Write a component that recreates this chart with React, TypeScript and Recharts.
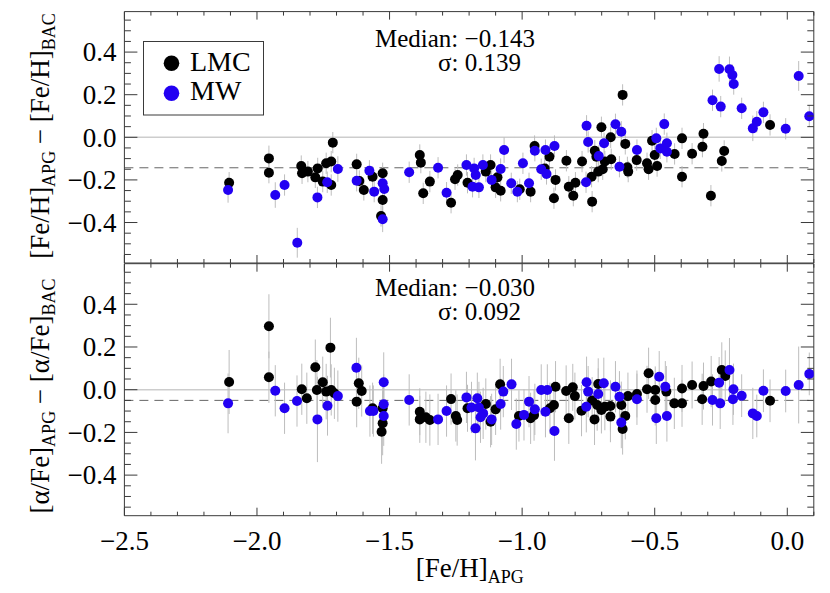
import React from 'react';
import { ScatterChart, Scatter, XAxis, YAxis, ErrorBar, ReferenceLine } from 'recharts';

const W = 830;
const H = 593;
const FONT = '"Liberation Serif", "Times New Roman", Times, serif';
const FRAME = '#3a3a3a';
const BLUE = '#2200f2';

// x ticks every 0.1 (majors every 0.5 are labelled)
const X_TICKS = [-2.5, -2.4, -2.3, -2.2, -2.1, -2.0, -1.9, -1.8, -1.7, -1.6, -1.5, -1.4, -1.3, -1.2, -1.1, -1.0,
  -0.9, -0.8, -0.7, -0.6, -0.5, -0.4, -0.3, -0.2, -0.1, 0.0, 0.1];
// y ticks every 0.05 (majors every 0.2 are labelled)
const Y_TICKS = [-0.55, -0.5, -0.45, -0.4, -0.35, -0.3, -0.25, -0.2, -0.15, -0.1, -0.05, 0, 0.05, 0.1, 0.15,
  0.2, 0.25, 0.3, 0.35, 0.4, 0.45, 0.5, 0.55];
const X_DOMAIN = [-2.5, 0.1];
const Y_DOMAIN = [-0.59, 0.59];

// [Fe/H]_APG, Δ[Fe/H], error
const lmcFe = [
  [-2.105, -0.213, 0.05], [-1.955, -0.099, 0.06], [-1.955, -0.166, 0.05], [-1.833, -0.135, 0.05],
  [-1.830, -0.169, 0.05], [-1.808, -0.161, 0.05], [-1.780, -0.188, 0.05], [-1.771, -0.146, 0.05],
  [-1.752, -0.208, 0.05], [-1.739, -0.122, 0.05], [-1.720, -0.114, 0.05], [-1.720, -0.224, 0.05],
  [-1.714, -0.025, 0.05], [-1.624, -0.127, 0.05], [-1.614, -0.205, 0.05], [-1.597, -0.247, 0.05],
  [-1.564, -0.185, 0.05], [-1.526, -0.169, 0.05], [-1.526, -0.294, 0.05], [-1.532, -0.369, 0.05],
  [-1.386, -0.083, 0.05], [-1.382, -0.119, 0.05], [-1.348, -0.208, 0.05], [-1.373, -0.263, 0.05],
  [-1.268, -0.307, 0.05], [-1.253, -0.197, 0.05], [-1.243, -0.177, 0.05], [-1.206, -0.213, 0.05],
  [-1.137, -0.161, 0.05], [-1.119, -0.130, 0.05], [-1.093, -0.188, 0.05], [-1.100, -0.235, 0.05],
  [-1.081, -0.251, 0.05], [-1.009, -0.244, 0.05], [-0.968, -0.255, 0.05], [-0.953, -0.041, 0.05],
  [-0.897, -0.091, 0.05], [-0.915, -0.146, 0.05], [-0.874, -0.200, 0.05], [-0.880, -0.286, 0.05],
  [-0.833, -0.110, 0.05], [-0.824, -0.232, 0.05], [-0.799, -0.213, 0.05], [-0.807, -0.274, 0.05],
  [-0.774, -0.114, 0.05], [-0.736, -0.302, 0.05], [-0.701, 0.047, 0.05], [-0.726, -0.063, 0.05],
  [-0.720, -0.091, 0.05], [-0.738, -0.185, 0.05], [-0.713, -0.161, 0.05], [-0.696, -0.150, 0.05],
  [-0.688, -0.114, 0.05], [-0.666, 0.000, 0.05], [-0.664, -0.103, 0.05], [-0.621, 0.199, 0.05],
  [-0.611, -0.031, 0.05], [-0.603, -0.141, 0.05], [-0.600, -0.161, 0.05], [-0.568, -0.107, 0.05],
  [-0.529, -0.122, 0.05], [-0.523, -0.150, 0.05], [-0.491, -0.135, 0.05], [-0.500, -0.083, 0.05],
  [-0.510, -0.016, 0.05], [-0.425, -0.078, 0.05], [-0.397, -0.005, 0.05], [-0.397, -0.185, 0.05],
  [-0.359, -0.077, 0.05], [-0.320, -0.044, 0.05], [-0.316, 0.017, 0.05], [-0.288, -0.274, 0.05],
  [-0.247, -0.111, 0.05], [-0.238, -0.064, 0.05], [-0.065, 0.058, 0.05],
];
const mwFe = [
  [-2.109, -0.247, 0.06], [-1.931, -0.271, 0.06], [-1.896, -0.224, 0.05], [-1.848, -0.495, 0.07],
  [-1.772, -0.282, 0.05], [-1.735, -0.211, 0.05], [-1.695, -0.149, 0.06], [-1.624, -0.204, 0.05],
  [-1.576, -0.157, 0.05], [-1.558, -0.255, 0.05], [-1.526, -0.216, 0.05], [-1.520, -0.243, 0.05],
  [-1.526, -0.385, 0.06], [-1.426, -0.164, 0.05], [-1.317, -0.143, 0.05], [-1.285, -0.260, 0.05],
  [-1.210, -0.130, 0.05], [-1.181, -0.146, 0.05], [-1.175, -0.177, 0.05], [-1.187, -0.232, 0.05],
  [-1.163, -0.235, 0.05], [-1.148, -0.130, 0.05], [-1.115, -0.200, 0.05], [-1.081, -0.149, 0.05],
  [-1.068, -0.060, 0.06], [-1.041, -0.216, 0.05], [-1.018, -0.255, 0.05], [-0.997, -0.122, 0.05],
  [-0.974, -0.216, 0.05], [-0.952, -0.063, 0.05], [-0.912, -0.060, 0.05], [-0.878, -0.041, 0.05],
  [-0.928, -0.150, 0.05], [-0.908, -0.172, 0.05], [-0.757, 0.054, 0.05], [-0.751, -0.022, 0.05],
  [-0.759, -0.211, 0.05], [-0.711, -0.088, 0.05], [-0.691, -0.028, 0.05], [-0.648, 0.061, 0.05],
  [-0.626, 0.026, 0.05], [-0.633, -0.138, 0.05], [-0.567, -0.060, 0.05], [-0.494, -0.005, 0.05],
  [-0.464, 0.062, 0.05], [-0.479, -0.052, 0.05], [-0.454, -0.028, 0.05], [-0.454, -0.068, 0.05],
  [-0.282, 0.174, 0.05], [-0.251, 0.144, 0.05], [-0.257, 0.321, 0.06], [-0.218, 0.319, 0.06],
  [-0.207, 0.292, 0.05], [-0.202, 0.250, 0.05], [-0.172, 0.136, 0.05], [-0.130, 0.042, 0.06],
  [-0.115, 0.073, 0.05], [-0.090, 0.117, 0.05], [-0.006, 0.040, 0.05], [0.043, 0.288, 0.07],
  [0.083, 0.099, 0.05],
];
// [Fe/H]_APG, Δ[α/Fe], error
const lmcAlpha = [
  [-2.105, 0.036, 0.15], [-1.955, 0.297, 0.15], [-1.955, 0.058, 0.12], [-1.831, 0.002, 0.12],
  [-1.812, -0.040, 0.12], [-1.780, 0.105, 0.13], [-1.774, -0.001, 0.14], [-1.752, 0.035, 0.12],
  [-1.739, -0.009, 0.13], [-1.723, 0.197, 0.14], [-1.720, -0.001, 0.12], [-1.708, -0.017, 0.12],
  [-1.616, 0.030, 0.12], [-1.605, -0.006, 0.12], [-1.624, -0.056, 0.12], [-1.564, -0.087, 0.12],
  [-1.526, -0.087, 0.12], [-1.526, -0.157, 0.15], [-1.530, -0.197, 0.15], [-1.386, -0.103, 0.11],
  [-1.386, -0.139, 0.11], [-1.363, -0.129, 0.12], [-1.348, -0.142, 0.12], [-1.268, -0.044, 0.12],
  [-1.250, -0.123, 0.12], [-1.245, -0.142, 0.12], [-1.206, -0.087, 0.11], [-1.137, -0.067, 0.12],
  [-1.119, -0.150, 0.12], [-1.100, -0.092, 0.12], [-1.083, 0.025, 0.12], [-1.012, -0.123, 0.12],
  [-0.968, -0.134, 0.12], [-0.955, -0.119, 0.12], [-0.895, -0.087, 0.12], [-0.880, -0.072, 0.11],
  [-0.874, 0.014, 0.12], [-0.834, -0.006, 0.12], [-0.824, -0.134, 0.12], [-0.809, 0.011, 0.11],
  [-0.801, -0.030, 0.11], [-0.776, -0.098, 0.12], [-0.736, -0.051, 0.11], [-0.727, -0.139, 0.12],
  [-0.713, 0.027, 0.12], [-0.717, -0.072, 0.12], [-0.701, -0.095, 0.11], [-0.688, -0.080, 0.11],
  [-0.667, -0.126, 0.12], [-0.667, -0.076, 0.12], [-0.626, -0.072, 0.11], [-0.621, -0.184, 0.12],
  [-0.611, -0.123, 0.11], [-0.601, -0.030, 0.11], [-0.567, -0.020, 0.11], [-0.529, 0.002, 0.11],
  [-0.523, 0.077, 0.12], [-0.498, -0.048, 0.12], [-0.498, -0.001, 0.11], [-0.456, -0.009, 0.12],
  [-0.426, -0.064, 0.12], [-0.397, -0.064, 0.11], [-0.397, 0.006, 0.11], [-0.359, 0.022, 0.11],
  [-0.321, -0.045, 0.12], [-0.316, 0.017, 0.11], [-0.287, 0.038, 0.12], [-0.247, 0.092, 0.13],
  [-0.234, 0.064, 0.12], [-0.065, -0.052, 0.10],
];
const mwAlpha = [
  [-2.109, -0.064, 0.14], [-1.931, -0.005, 0.12], [-1.896, -0.087, 0.12], [-1.849, -0.053, 0.12],
  [-1.772, -0.139, 0.20], [-1.734, -0.075, 0.14], [-1.695, -0.030, 0.12], [-1.625, 0.103, 0.14],
  [-1.574, -0.100, 0.12], [-1.561, -0.100, 0.12], [-1.522, 0.035, 0.14], [-1.522, -0.068, 0.14],
  [-1.522, -0.123, 0.14], [-1.426, -0.048, 0.12], [-1.317, -0.139, 0.12], [-1.285, -0.100, 0.12],
  [-1.210, -0.036, 0.12], [-1.191, -0.083, 0.12], [-1.169, -0.040, 0.12], [-1.163, -0.083, 0.12],
  [-1.157, -0.129, 0.12], [-1.176, -0.181, 0.15], [-1.147, -0.111, 0.12], [-1.115, -0.139, 0.12],
  [-1.071, -0.009, 0.12], [-1.040, 0.025, 0.12], [-1.081, -0.067, 0.12], [-1.022, -0.161, 0.12],
  [-0.993, -0.118, 0.12], [-0.974, -0.056, 0.12], [-0.952, -0.092, 0.12], [-0.928, -0.001, 0.12],
  [-0.905, -0.001, 0.12], [-0.912, -0.103, 0.12], [-0.878, -0.193, 0.14], [-0.757, 0.035, 0.12],
  [-0.751, -0.009, 0.12], [-0.758, -0.080, 0.12], [-0.713, -0.020, 0.12], [-0.692, 0.030, 0.12],
  [-0.648, 0.014, 0.12], [-0.633, -0.033, 0.12], [-0.626, -0.154, 0.12], [-0.567, -0.045, 0.12],
  [-0.483, 0.061, 0.12], [-0.494, -0.134, 0.12], [-0.460, 0.014, 0.12], [-0.454, -0.123, 0.12],
  [-0.282, -0.048, 0.12], [-0.253, -0.064, 0.12], [-0.257, 0.033, 0.12], [-0.218, 0.092, 0.15],
  [-0.203, 0.002, 0.12], [-0.205, -0.045, 0.12], [-0.172, -0.028, 0.10], [-0.130, -0.111, 0.12],
  [-0.115, -0.123, 0.10], [-0.090, -0.005, 0.10], [-0.006, -0.006, 0.10], [0.043, 0.022, 0.18],
  [0.083, 0.074, 0.10],
];

const FE_MEDIAN_LINE = -0.143;
const ALPHA_MEDIAN_LINE = -0.05;

const toRows = (arr: number[][]) => arr.map(([x, y, e]) => ({ x, y, e }));

const fmt = (v: number, d: number) => (v < -1e-9 ? '\u2212' : '') + Math.abs(v).toFixed(d);
const isMajor = (v: number, step: number) => Math.abs(v / step - Math.round(v / step)) < 1e-6;

const PLOT_LEFT = 124.4;
const PLOT_RIGHT = 813.8;
const AX = 1; // thickness of the axis boxes (must be > 0 to be drawn)

function XTick(props: any) {
  const { x, y, payload, side, showLabel } = props;
  const v = payload.value;
  const maj = isMajor(v, 0.5);
  const len = maj ? 8 : 4;
  const dir = side === 'bottom' ? -1 : 1;
  return (
    <g>
      <line x1={x} x2={x} y1={y} y2={y + dir * len} stroke={FRAME} strokeWidth={1} />
      {showLabel && maj ? (
        <text x={x} y={y + 34} textAnchor="middle" fontSize={27} fontFamily={FONT} fill="#000">
          {fmt(v, 1)}
        </text>
      ) : null}
    </g>
  );
}

function YTick(props: any) {
  const { x, y, payload, side } = props;
  const v = payload.value;
  const maj = isMajor(v, 0.2);
  const len = maj ? 13 : 6.5;
  const dir = side === 'left' ? 1 : -1;
  return (
    <g>
      <line x1={x} x2={x + dir * len} y1={y} y2={y} stroke={FRAME} strokeWidth={1} />
      {side === 'left' && maj ? (
        <text x={x - 8} y={y + 9.3} textAnchor="end" fontSize={27} fontFamily={FONT} fill="#000">
          {fmt(v, 1)}
        </text>
      ) : null}
    </g>
  );
}

const dot = (fill: string) => (p: any) => <circle cx={p.cx} cy={p.cy} r={5} fill={fill} stroke="none" />;
const none = () => <g />;

function Panel(props: { top: number; bottom: number; lmc: number[][]; mw: number[][]; median: number; showXLabels: boolean }) {
  const { top, bottom, lmc, mw, median, showXLabels } = props;
  const lmcRows = toRows(lmc);
  const mwRows = toRows(mw);
  const eb = <ErrorBar dataKey="e" direction="y" width={0} stroke="#bdbdbd" strokeWidth={1} />;
  return (
    <div style={{ position: 'absolute', left: 0, top: 0 }}>
      <ScatterChart
        width={W}
        height={H}
        margin={{ top: top - AX, bottom: H - bottom - AX, left: PLOT_LEFT - AX, right: W - PLOT_RIGHT - AX }}
      >
        <XAxis xAxisId="b" type="number" dataKey="x" domain={X_DOMAIN} allowDataOverflow ticks={X_TICKS}
          interval={0} height={AX} tickSize={0} tickMargin={0} tickLine={false}
          axisLine={{ stroke: FRAME, strokeWidth: 1 }}
          tick={(p: any) => <XTick {...p} side="bottom" showLabel={showXLabels} />} />
        <XAxis xAxisId="t" orientation="top" type="number" dataKey="x" domain={X_DOMAIN} allowDataOverflow ticks={X_TICKS}
          interval={0} height={AX} tickSize={0} tickMargin={0} tickLine={false}
          axisLine={{ stroke: FRAME, strokeWidth: 1 }}
          tick={(p: any) => <XTick {...p} side="top" showLabel={false} />} />
        <YAxis yAxisId="l" type="number" dataKey="y" domain={Y_DOMAIN} allowDataOverflow ticks={Y_TICKS}
          interval={0} width={AX} tickSize={0} tickMargin={0} tickLine={false}
          axisLine={{ stroke: FRAME, strokeWidth: 1 }}
          tick={(p: any) => <YTick {...p} side="left" />} />
        <YAxis yAxisId="r" orientation="right" type="number" dataKey="y" domain={Y_DOMAIN} allowDataOverflow ticks={Y_TICKS}
          interval={0} width={AX} tickSize={0} tickMargin={0} tickLine={false}
          axisLine={{ stroke: FRAME, strokeWidth: 1 }}
          tick={(p: any) => <YTick {...p} side="right" />} />
        <ReferenceLine xAxisId="b" yAxisId="l" y={0} stroke="#cdcdcd" strokeWidth={1.5} />
        <ReferenceLine xAxisId="b" yAxisId="l" y={median} stroke="#666" strokeWidth={1} strokeDasharray="9 6" />
        <Scatter xAxisId="b" yAxisId="l" data={lmcRows} shape={none} isAnimationActive={false}>{eb}</Scatter>
        <Scatter xAxisId="b" yAxisId="l" data={mwRows} shape={none} isAnimationActive={false}>{eb}</Scatter>
        <Scatter name="LMC" xAxisId="b" yAxisId="l" data={lmcRows} shape={dot('#000')} isAnimationActive={false} />
        <Scatter name="MW" xAxisId="b" yAxisId="l" data={mwRows} shape={dot(BLUE)} isAnimationActive={false} />
      </ScatterChart>
    </div>
  );
}

export default function App() {
  const sub = 18;
  return (
    <div style={{ position: 'absolute', left: 0, top: 0, width: W, height: H, background: '#fff' }}>
      <Panel top={11.6} bottom={263} lmc={lmcFe} mw={mwFe} median={FE_MEDIAN_LINE} showXLabels={false} />
      <Panel top={263.7} bottom={515.7} lmc={lmcAlpha} mw={mwAlpha} median={ALPHA_MEDIAN_LINE} showXLabels />
      <svg width={W} height={H} style={{ position: 'absolute', left: 0, top: 0, pointerEvents: 'none' }}
        fontFamily={FONT} fill="#000">
        {/* legend */}
        <rect x={143.5} y={41.5} width={120} height={73.5} fill="#fff" stroke={FRAME} strokeWidth={1} />
        <circle cx={171.5} cy={63.3} r={7.8} fill="#000" />
        <text x={190} y={71} fontSize={28}>LMC</text>
        <circle cx={171.5} cy={93.3} r={7.8} fill={BLUE} />
        <text x={190} y={100} fontSize={28}>MW</text>
        {/* annotations */}
        <text x={375} y={46.5} fontSize={25}>Median: {'\u2212'}0.143</text>
        <text x={438} y={71} fontSize={25}>σ: 0.139</text>
        <text x={375} y={295.5} fontSize={25}>Median: {'\u2212'}0.030</text>
        <text x={438} y={320} fontSize={25}>σ: 0.092</text>
        {/* axis titles */}
        <text x={469.7} y={577} fontSize={27} textAnchor="middle">
          [Fe/H]<tspan fontSize={sub} dy={6}>APG</tspan>
        </text>
        <text x={49} y={136} fontSize={27} textAnchor="middle" transform="rotate(-90 49 136)">
          [Fe/H]<tspan fontSize={sub} dy={6}>APG</tspan><tspan dy={-6}> {'\u2212'} [Fe/H]</tspan><tspan fontSize={sub} dy={6}>BAC</tspan>
        </text>
        <text x={49} y={396} fontSize={27} textAnchor="middle" transform="rotate(-90 49 396)">
          [α/Fe]<tspan fontSize={sub} dy={6}>APG</tspan><tspan dy={-6}> {'\u2212'} [α/Fe]</tspan><tspan fontSize={sub} dy={6}>BAC</tspan>
        </text>
      </svg>
    </div>
  );
}
